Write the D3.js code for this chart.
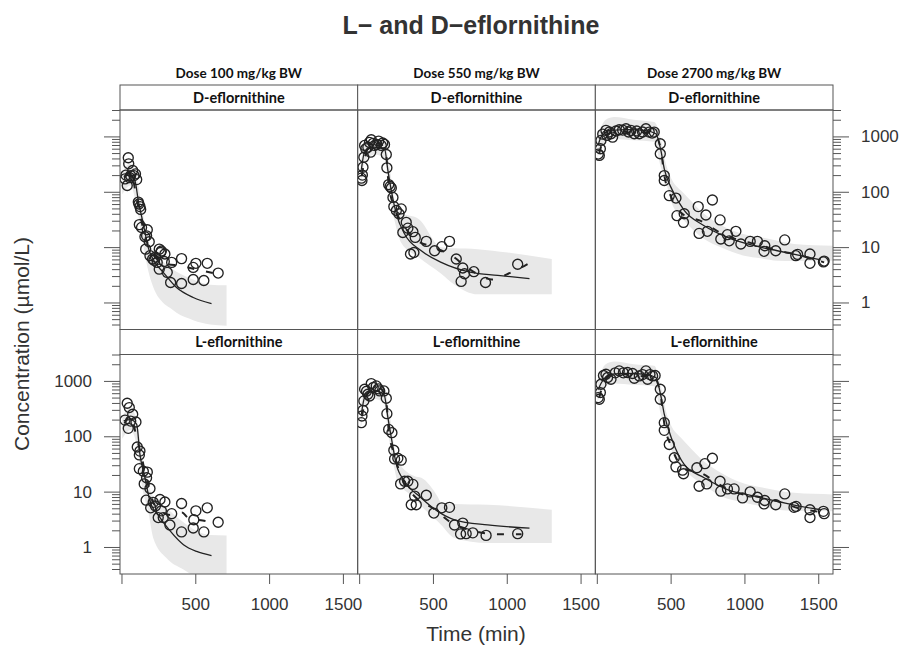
<!DOCTYPE html>
<html>
<head>
<meta charset="utf-8">
<script src="https://cdn.jsdelivr.net/npm/d3@7"></script>
<style>
  body { margin: 0; background: #fff; }
</style>
</head>
<body>
<div id="chart"></div>
<script>
// facet labels and ticks
const doses = ["Dose 100 mg/kg BW", "Dose 550 mg/kg BW", "Dose 2700 mg/kg BW"];
const analytes = ["D-eflornithine", "L-eflornithine"];
const timeTicks = [0, 500, 1000, 1500];
const concTicks = [1, 10, 100, 1000];

// observed concentrations [time (min), conc (umol/L)]
const D100Obs = [[24,171],[30,200],[39,130],[46,411],[49,320],[55,180],[62,196],[76,242],[85,196],[95,210],[103,166],[114,65],[118,60],[125,54],[130,48],[121,25.5],[136,22.7],[175,20.6],[159,15.4],[170,16],[188,12.5],[164,9.2],[193,7.0],[211,6.1],[220,5.8],[230,6.6],[256,9.2],[265,8.0],[270,8.5],[294,7.5],[290,5.5],[242,5.3],[256,4.0],[310,3.5],[340,5.3],[333,2.3],[407,6.2],[407,2.2],[486,4.3],[504,5.1],[486,2.6],[558,2.5],[581,5.1],[655,3.4]];
const D550Obs = [[15,176],[19,160],[22,200],[26,278],[32,420],[37,687],[45,600],[59,640],[70,780],[82,870],[78,520],[95,750],[105,687],[120,720],[132,822],[150,687],[160,760],[172,716],[184,472],[188,271],[200,135],[210,125],[218,117],[229,79],[235,54],[252,46],[285,49],[270,40],[319,28],[296,18.4],[330,22],[364,19],[380,15],[371,8.0],[348,7.5],[455,12.7],[511,8.6],[560,10.2],[612,12.7],[658,6.1],[702,4.2],[714,3.3],[691,2.4],[777,3.6],[856,2.3],[1074,4.9]];
const D2700Obs = [[10,480],[17,453],[24,598],[28,847],[40,1100],[62,1285],[69,1043],[85,1200],[96,1119],[107,971],[130,1250],[152,1322],[175,1300],[198,1377],[215,1200],[231,1285],[254,1119],[270,1250],[288,1119],[310,1200],[333,1377],[355,1197],[375,1150],[389,1197],[430,738],[430,486],[457,196],[457,160],[491,85],[536,77],[543,37],[592,40],[587,28],[687,54],[739,38],[783,71],[693,17.7],[749,19.3],[835,31],[840,14],[885,16.8],[897,13],[942,19.3],[976,11.4],[1039,12.7],[1088,12.7],[1133,8.4],[1138,10.6],[1212,8.6],[1273,13.5],[1348,7.0],[1360,7.4],[1444,7.5],[1444,5.1],[1535,5.4],[1540,5.6]];
const L100Obs = [[24,196],[39,395],[46,139],[53,330],[62,188],[76,250],[98,181],[107,64],[125,54],[121,46],[121,26],[148,23.4],[175,22.5],[170,17.8],[154,13.8],[193,11.4],[167,7.0],[198,5.1],[215,6.4],[230,5.5],[261,7.2],[294,6.5],[249,3.4],[283,3.4],[270,4.5],[340,4.0],[328,2.5],[407,6.1],[407,1.87],[504,4.5],[490,3.1],[486,2.2],[558,1.87],[581,5.1],[655,2.8]];
const L550Obs = [[15,176],[19,232],[26,294],[32,435],[37,708],[50,650],[59,574],[71,534],[82,896],[95,760],[116,813],[130,720],[139,659],[168,659],[184,486],[188,256],[200,133],[222,116],[235,56],[240,39],[262,40],[285,37],[308,15.4],[281,13.8],[330,15.4],[364,13.5],[376,8.3],[353,5.8],[387,5.8],[455,8.6],[506,4.1],[560,5.1],[612,5.2],[646,2.5],[702,2.7],[687,1.72],[725,1.74],[770,1.8],[860,1.62],[1074,1.74]];
const L2700Obs = [[10,500],[17,466],[24,616],[28,871],[45,1250],[62,1322],[73,1153],[96,1072],[125,1400],[152,1517],[180,1400],[208,1419],[242,1361],[254,1119],[288,1231],[310,1300],[333,1517],[344,1072],[360,1300],[378,1231],[395,1250],[430,708],[430,466],[457,176],[457,128],[491,71],[525,41],[536,28],[581,24.4],[587,21],[678,27],[732,32],[783,40],[693,12.5],[745,13.8],[835,15.4],[840,10.2],[885,11.2],[930,11.2],[987,7.7],[1039,9.9],[1088,7.9],[1138,6.9],[1133,6.0],[1212,5.8],[1273,9.1],[1336,5.2],[1350,5.4],[1444,4.7],[1444,3.4],[1535,4.4],[1540,4.0]];

// model median prediction [time, conc]
const D100Pred = [[15,190],[60,200],[91,160],[114,69],[148,26],[181,9.9],[227,5.3],[283,3.5],[373,1.86],[486,1.23],[610,0.95]];
const D550Pred = [[15,250],[37,520],[105,640],[172,598],[195,242],[218,105],[252,40],[308,17.3],[421,8.6],[556,5.3],[759,3.5],[939,3.1],[1154,2.7]];
const D2700Pred = [[10,700],[28,971],[96,1285],[208,1322],[321,1285],[400,1119],[434,557],[457,260],[513,105],[592,46],[727,24.4],[885,15],[1066,10.6],[1223,8.6],[1381,7.0],[1517,5.9]];
const L100Pred = [[15,190],[60,200],[103,164],[125,47],[159,17.8],[193,6.7],[261,3.4],[328,1.97],[420,1.1],[509,0.83],[610,0.70]];
const L550Pred = [[15,250],[37,500],[105,659],[168,574],[195,217],[218,94],[252,31],[308,15.4],[421,7.7],[533,4.4],[646,3.1],[871,2.5],[1154,2.2]];
const L2700Pred = [[10,700],[28,896],[96,1322],[208,1361],[321,1322],[400,1153],[434,534],[457,250],[513,82],[592,31],[727,17.8],[885,10.9],[1066,8.3],[1223,6.7],[1381,5.4],[1517,4.7]];

// prediction interval [time, lower, upper]
const D100Band = [[5,90,230],[60,130,320],[100,60,200],[140,14,50],[181,3.8,12],[215,1.9,8],[280,1.0,5.5],[328,0.8,4.3],[373,0.65,3.6],[486,0.48,2.6],[600,0.40,2.1],[712,0.38,2.05]];
const D550Band = [[10,120,330],[40,350,750],[105,470,860],[172,400,820],[200,110,360],[240,30,70],[285,12,42],[405,6.5,32],[556,3.3,9.9],[646,2.1,9.5],[803,1.41,9.2],[1007,1.41,8.0],[1305,1.41,6.1]];
const D2700Band = [[5,420,1000],[60,800,2000],[118,900,2240],[250,850,2000],[389,800,1820],[434,278,900],[468,150,320],[502,69,180],[570,35,105],[614,26,80],[727,14,40],[840,9.9,25],[998,7.0,17],[1111,6.3,15],[1223,5.7,13],[1336,5.6,11.4],[1608,5.7,10.6]];
const L100Band = [[5,90,230],[60,130,320],[103,70,200],[140,12,45],[181,4.4,14],[215,1.46,8],[305,0.63,5],[420,0.39,2.8],[500,0.3,2.0],[600,0.28,1.65],[712,0.28,1.62]];
const L550Band = [[10,120,330],[40,350,750],[105,470,860],[168,400,800],[200,100,330],[240,25,60],[262,15,36],[376,7.7,19],[421,5.5,17.8],[533,2.9,8],[556,2.5,6.3],[646,1.46,6.0],[871,1.18,5.8],[1305,1.18,4.7]];
const L2700Band = [[5,420,1000],[60,800,2000],[118,900,2240],[250,850,2000],[389,800,1870],[434,250,800],[468,130,286],[502,62,160],[570,30,94],[614,22,70],[727,13,35],[840,8.3,22],[998,6.3,14],[1111,5.5,12],[1223,4.7,10.5],[1336,4.5,9.5],[1608,4.4,8.9]];

// observed median (dashed) [time, conc]
const D100ObsLine = [[20,180],[60,230],[110,60],[160,16],[220,7],[300,5],[400,4.6],[500,4.0],[620,3.4]];
const D550ObsLine = [[19,200],[60,620],[130,760],[180,520],[200,135],[235,56],[300,25],[380,14],[500,10],[610,7.5],[760,3.8],[900,2.6],[1030,3.5],[1150,5.1]];
const D2700ObsLine = [[17,500],[60,1050],[150,1250],[250,1150],[380,1200],[430,650],[460,180],[500,85],[590,38],[700,30],[840,18],[980,13],[1100,11],[1240,8.5],[1370,7.2],[1540,5.3]];
const L100ObsLine = [[20,170],[60,230],[105,90],[130,50],[170,17],[210,7],[260,4.5],[330,3.8],[410,4.2],[450,3.4],[550,3.0],[620,2.8]];
const L550ObsLine = [[19,230],[60,600],[130,760],[180,520],[200,130],[240,45],[300,15],[380,8],[500,5],[620,2.8],[760,2.0],[950,1.7],[1100,1.7]];
const L2700ObsLine = [[17,500],[60,1100],[150,1400],[250,1200],[380,1250],[430,600],[460,150],[500,70],[590,26],[700,22],[840,13],[980,9],[1100,8],[1240,6.5],[1370,5.0],[1540,4.2]];

const panels = [
  {row: 0, col: 0, obs: D100Obs, pred: D100Pred, band: D100Band, obsLine: D100ObsLine},
  {row: 0, col: 1, obs: D550Obs, pred: D550Pred, band: D550Band, obsLine: D550ObsLine},
  {row: 0, col: 2, obs: D2700Obs, pred: D2700Pred, band: D2700Band, obsLine: D2700ObsLine},
  {row: 1, col: 0, obs: L100Obs, pred: L100Pred, band: L100Band, obsLine: L100ObsLine},
  {row: 1, col: 1, obs: L550Obs, pred: L550Pred, band: L550Band, obsLine: L550ObsLine},
  {row: 1, col: 2, obs: L2700Obs, pred: L2700Pred, band: L2700Band, obsLine: L2700ObsLine}
];

const W = 904, H = 648;
const plotLeft = 120, plotRight = 833, plotTop = 85;
const colW = (plotRight - plotLeft) / 3;
const stripH = 25, panelH = 219.5;
const frame = "#555";
const ink = "#333";
const sans = "'Liberation Sans', Arial, sans-serif";
const stripFont = "Lato, 'Open Sans', sans-serif";

const svg = d3.select("#chart").append("svg")
  .attr("width", W)
  .attr("height", H)
  .style("font-family", sans);

const x = d3.scaleLinear().domain([-10, 1600]).range([0, colW]);
const y = d3.scaleLog().domain([0.325, 3000]).range([panelH, 0]);

const minorTicks = y.ticks().filter(d => !concTicks.includes(d));

// title
svg.append("text")
  .attr("x", 471)
  .attr("y", 34)
  .attr("text-anchor", "middle")
  .style("font-size", "25px")
  .style("font-weight", "bold")
  .attr("fill", ink)
  .text("L\u2212 and D\u2212eflornithine");

// dose headers
doses.forEach((d, i) => {
  svg.append("text")
    .attr("x", plotLeft + colW * i + colW / 2)
    .attr("y", 78)
    .attr("text-anchor", "middle")
    .style("font-family", stripFont)
    .style("font-size", "13.5px")
    .style("font-weight", "bold")
    .attr("fill", "#111")
    .text(d);
});

const line = d3.line().x(d => x(d[0])).y(d => y(d[1])).curve(d3.curveMonotoneX);
const area = d3.area().x(d => x(d[0])).y0(d => y(d[1])).y1(d => y(d[2])).curve(d3.curveMonotoneX);

panels.forEach((p, i) => {
  const gx = plotLeft + p.col * colW;
  const gy = plotTop + p.row * (stripH + panelH);
  const g = svg.append("g").attr("transform", `translate(${gx},${gy})`);

  // strip
  g.append("rect")
    .attr("width", colW)
    .attr("height", stripH)
    .attr("fill", "#fff")
    .attr("stroke", frame);
  g.append("text")
    .attr("x", colW / 2)
    .attr("y", stripH / 2 + 5)
    .attr("text-anchor", "middle")
    .style("font-family", stripFont)
    .style("font-size", "14.5px")
    .style("font-weight", "bold")
    .attr("fill", "#111")
    .text(analytes[p.row]);

  const pg = g.append("g").attr("transform", `translate(0,${stripH})`);

  svg.append("clipPath").attr("id", "clip" + i)
    .append("rect").attr("width", colW).attr("height", panelH);

  const inner = pg.append("g").attr("clip-path", `url(#clip${i})`);

  inner.append("path")
    .datum(p.band)
    .attr("d", area)
    .attr("fill", "#e8e8e8");

  inner.append("path")
    .datum(p.pred)
    .attr("d", line)
    .attr("fill", "none")
    .attr("stroke", "#222")
    .attr("stroke-width", 1.3);

  inner.append("path")
    .datum(p.obsLine)
    .attr("d", line)
    .attr("fill", "none")
    .attr("stroke", "#222")
    .attr("stroke-width", 2)
    .attr("stroke-dasharray", "7,12");

  inner.selectAll("circle")
    .data(p.obs)
    .enter()
    .append("circle")
    .attr("cx", d => x(d[0]))
    .attr("cy", d => y(d[1]))
    .attr("r", 5)
    .attr("fill", "none")
    .attr("stroke", "#222")
    .attr("stroke-width", 1.35);

  pg.append("rect")
    .attr("width", colW)
    .attr("height", panelH)
    .attr("fill", "none")
    .attr("stroke", frame);

  // y axes on the outer sides only
  if (p.col === 0 || p.col === 2) {
    const isLeft = p.col === 0;
    const showLabels = isLeft ? p.row === 1 : p.row === 0;
    const mk = isLeft ? d3.axisLeft : d3.axisRight;
    const ax = pg.append("g").attr("transform", isLeft ? null : `translate(${colW},0)`);
    ax.append("g").call(mk(y).tickValues(minorTicks).tickSize(8).tickFormat(""));
    ax.append("g").call(mk(y).tickValues(concTicks).tickSize(16).tickPadding(12)
      .tickFormat(d => showLabels ? d3.format("d")(d) : ""));
    ax.selectAll(".domain").remove();
    ax.selectAll("line").attr("stroke", frame);
    ax.selectAll("text").attr("fill", ink).style("font-size", "17px")
      .style("font-family", sans);
  }

  // time axis under the bottom row
  if (p.row === 1) {
    const ax = pg.append("g").attr("transform", `translate(0,${panelH})`)
      .call(d3.axisBottom(x).tickValues(timeTicks).tickSize(10).tickPadding(14)
        .tickFormat(d => d === 0 ? "" : d));
    ax.select(".domain").remove();
    ax.selectAll("line").attr("stroke", frame);
    ax.selectAll("text").attr("fill", ink).style("font-size", "17px")
      .style("font-family", sans);
  }
});

// axis titles
svg.append("text")
  .attr("x", 476)
  .attr("y", 641)
  .attr("text-anchor", "middle")
  .style("font-size", "21px")
  .attr("fill", ink)
  .text("Time (min)");

svg.append("text")
  .attr("transform", "translate(29,344) rotate(-90)")
  .attr("text-anchor", "middle")
  .style("font-size", "21px")
  .attr("fill", ink)
  .text("Concentration (\u00b5mol/L)");
</script>
</body>
</html>
